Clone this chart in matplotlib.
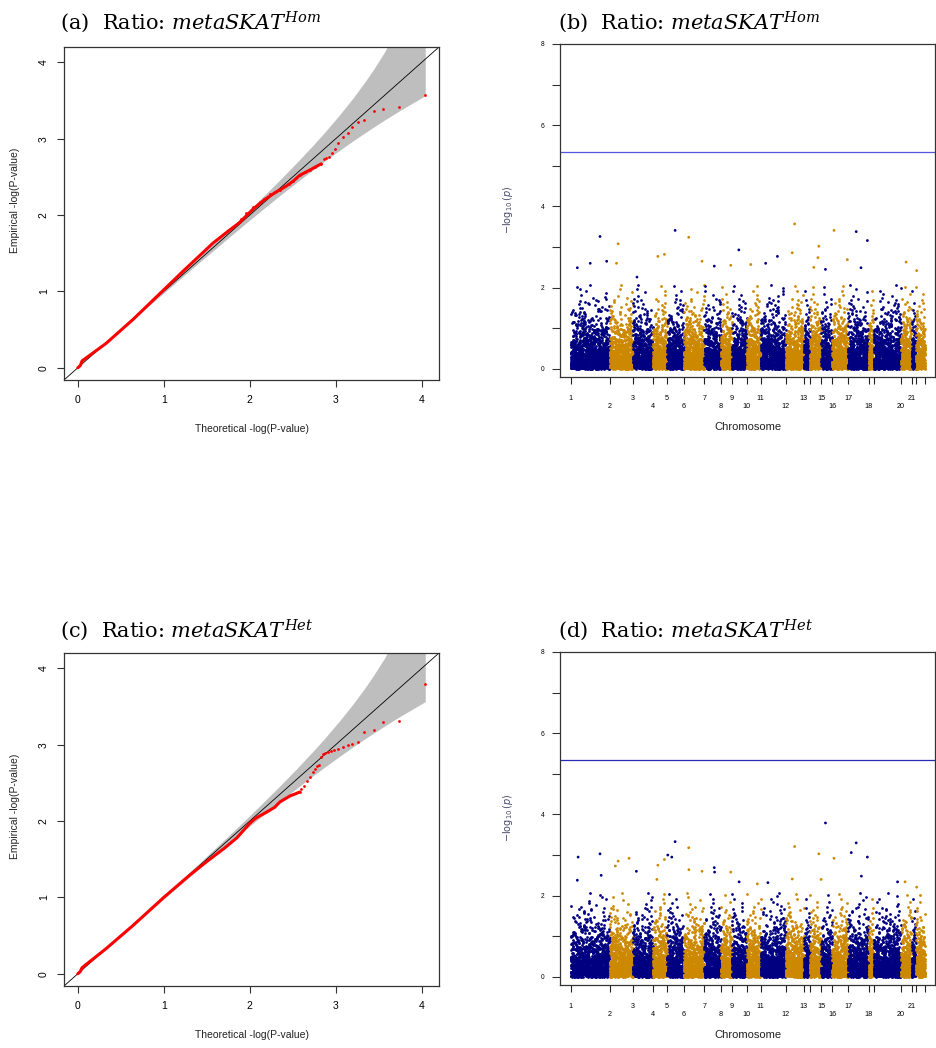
import numpy as np
import matplotlib
matplotlib.use('Agg')
import matplotlib.pyplot as plt

plt.rcParams['font.family'] = ['Liberation Sans', 'DejaVu Sans']
plt.rcParams['mathtext.fontset'] = 'dejavuserif'

# ---- QQ plots ----
# 90% band of the expected order statistics (theoretical vs. empirical -log10 p)
band_x = [4.04, 3.739, 3.563, 3.438, 3.341, 3.195, 3.04, 2.864, 2.739, 2.563, 2.341, 2.04, 1.739, 1.341, 1.04, 0.739, 0.341, 0.0]
band_hi = [5.33, 4.489, 4.127, 3.905, 3.746, 3.524, 3.306, 3.074, 2.918, 2.706, 2.449, 2.114, 1.791, 1.374, 1.063, 0.754, 0.349, 0.0]
band_lo = [3.563, 3.364, 3.241, 3.150, 3.078, 2.967, 2.844, 2.700, 2.595, 2.443, 2.248, 1.972, 1.690, 1.310, 1.018, 0.725, 0.334, 0.0]

# Hom: top genes as single points, the rest as a dense trace
hom_tail_x = [4.04, 3.74, 3.55, 3.44, 3.33, 3.26, 3.19, 3.14, 3.08, 3.03, 2.99, 2.96, 2.92, 2.89, 2.86, 2.83,
              2.76, 2.70, 2.64, 2.58, 2.54, 2.50, 2.46, 2.41, 2.35, 2.29, 2.23, 2.17, 2.12, 2.04, 1.96, 1.90]
hom_tail_y = [3.57, 3.41, 3.39, 3.36, 3.25, 3.22, 3.15, 3.07, 3.02, 2.94, 2.87, 2.81, 2.76, 2.75, 2.73, 2.67,
              2.625, 2.59, 2.56, 2.53, 2.49, 2.44, 2.41, 2.38, 2.33, 2.30, 2.28, 2.21, 2.17, 2.10, 2.02, 1.95]
hom_line_x = [0.0, 0.03, 0.05, 0.33, 0.64, 0.99, 1.22, 1.40, 1.57, 1.75, 1.88, 2.04, 2.17, 2.29, 2.41, 2.50, 2.58, 2.70, 2.83]
hom_line_y = [0.0, 0.03, 0.09, 0.32, 0.63, 1.01, 1.26, 1.45, 1.63, 1.79, 1.90, 2.08, 2.20, 2.29, 2.37, 2.44, 2.52, 2.59, 2.67]

# Het
het_tail_x = [4.04, 3.74, 3.55, 3.44, 3.33, 3.26, 3.19, 3.14, 3.08, 3.03, 2.98, 2.95, 2.91, 2.88, 2.85, 2.83,
              2.81, 2.78, 2.76, 2.73, 2.70, 2.66, 2.63, 2.60, 2.58]
het_tail_y = [3.79, 3.31, 3.30, 3.19, 3.17, 3.03, 3.01, 2.99, 2.97, 2.94, 2.93, 2.92, 2.91, 2.89, 2.88, 2.84,
              2.73, 2.72, 2.68, 2.64, 2.57, 2.53, 2.46, 2.42, 2.38]
het_line_x = [0.0, 0.03, 0.05, 0.33, 0.64, 1.0, 1.3, 1.5, 1.7, 1.85, 2.0, 2.06, 2.12, 2.17, 2.23, 2.29, 2.35, 2.41, 2.47, 2.54, 2.58]
het_line_y = [0.0, 0.03, 0.08, 0.33, 0.63, 1.0, 1.29, 1.47, 1.64, 1.78, 1.97, 2.03, 2.07, 2.10, 2.14, 2.18, 2.25, 2.29, 2.33, 2.36, 2.38]

# ---- Manhattan plots ----
chroms = list(range(1, 23))
chrom_genes = [1220, 725, 620, 445, 520, 640, 520, 340, 465, 435, 780, 570, 185, 355, 340, 495, 645, 155, 860, 330, 135, 280]

# share of genes falling in each -log10(p) band (background cloud)
band_top = [0.25, 0.5, 0.75, 1.0, 1.25, 1.5, 1.75, 2.1]
band_share = [0.445, 0.25, 0.145, 0.08, 0.042, 0.021, 0.011, 0.006]

sig_line = 5.34

# strongest genes: chromosome, relative position inside the chromosome, -log10(p)
hom_hit_chr = [1, 2, 5, 6, 9, 12, 12, 14, 14, 16, 17, 17, 16, 4, 4, 1, 1, 1, 2, 7, 8, 10, 11, 11, 20, 22, 3, 6, 17, 15, 14]
hom_hit_pos = [0.75, 0.36, 0.48, 0.24, 0.47, 0.49, 0.36, 0.79, 0.71, 0.12, 0.40, 0.94, 0.96, 0.81, 0.35, 0.50, 0.92, 0.17,
               0.29, 0.60, 0.90, 0.29, 0.20, 0.67, 0.47, 0.07, 0.20, 0.89, 0.63, 0.39, 0.35]
hom_hit_val = [3.26, 3.08, 3.41, 3.24, 2.93, 3.57, 2.86, 3.02, 2.74, 3.41, 3.38, 3.16, 2.69, 2.82, 2.77, 2.60, 2.65, 2.49,
               2.60, 2.53, 2.55, 2.57, 2.60, 2.77, 2.63, 2.42, 2.26, 2.65, 2.49, 2.45, 2.50]

het_hit_chr = [15, 5, 17, 6, 12, 1, 1, 5, 5, 4, 14, 16, 17, 17, 2, 2, 2, 4, 6, 6, 7, 7, 8, 3, 1, 1, 17, 9, 19, 11, 10, 14, 12, 20, 22, 4]
het_hit_pos = [0.39, 0.48, 0.40, 0.24, 0.49, 0.19, 0.75, 0.04, 0.28, 0.81, 0.79, 0.12, 0.16, 0.94, 0.83, 0.36, 0.24, 0.35,
               0.25, 0.89, 0.60, 0.62, 0.90, 0.17, 0.78, 0.17, 0.65, 0.49, 0.87, 0.29, 0.76, 0.99, 0.36, 0.37, 0.07, 0.28]
het_hit_val = [3.79, 3.33, 3.30, 3.18, 3.21, 2.95, 3.03, 3.00, 2.95, 2.89, 3.03, 2.92, 3.06, 2.95, 2.92, 2.85, 2.73, 2.75,
               2.64, 2.60, 2.69, 2.58, 2.58, 2.60, 2.50, 2.38, 2.48, 2.34, 2.34, 2.32, 2.29, 2.40, 2.41, 2.34, 2.21, 2.40]

navy = '#000080'
gold = '#CC8800'
W, H = 937, 1048

fig = plt.figure(figsize=(W / 100, H / 100), dpi=100)


def box(left, top, right, bottom):
    return [left / W, 1 - bottom / H, (right - left) / W, (bottom - top) / H]


def qq(rect, tail_x, tail_y, line_x, line_y, ylab_y, xlab_y):
    ax = fig.add_axes(box(*rect))
    ax.fill_between(band_x, band_lo, band_hi, color='#BEBEBE', lw=0, zorder=1)
    ax.axline((0, 0), slope=1, color='black', lw=0.6, zorder=2)
    ax.plot(line_x, line_y, color='red', lw=2.2, solid_capstyle='round', solid_joinstyle='round', zorder=3)
    ax.plot(tail_x, tail_y, 'o', color='red', ms=2.0, mew=0, zorder=3)
    ax.set_xlim(-0.16, 4.2)
    ax.set_ylim(-0.16, 4.2)
    ax.set_xticks(range(5))
    ax.set_yticks(range(5))
    ax.tick_params(length=5, width=0.8, labelsize=7.5, color='#333333')
    ax.tick_params(axis='x', pad=6)
    ax.tick_params(axis='y', pad=6, labelrotation=90)
    for lab in ax.get_yticklabels():
        lab.set_va('center')
    for s in ax.spines.values():
        s.set_linewidth(0.9)
        s.set_color('#333333')
    fig.text(15 / W, 1 - ylab_y / H, 'Empirical -log(P-value)', rotation=90, ha='center', va='center', fontsize=7.5, color='#222222')
    fig.text(252 / W, 1 - xlab_y / H, 'Theoretical -log(P-value)', ha='center', va='center', fontsize=7.5, color='#222222')
    return ax


def manhattan(rect, hit_chr, hit_pos, hit_val, phase, line_color, ylab_y, xlab_y):
    ax = fig.add_axes(box(*rect))
    starts = np.concatenate([[0], np.cumsum(chrom_genes)])
    for c, n in enumerate(chrom_genes):
        col = navy if c % 2 == 0 else gold
        # heights spread evenly inside each band, then dealt out along the chromosome
        heights = []
        low = 0.0
        for top, share in zip(band_top, band_share):
            k = int(round(n * share))
            heights.append(low + (np.arange(k) + 0.5) / max(k, 1) * (top - low))
            low = top
        heights = np.concatenate(heights)
        m = len(heights)
        j = np.arange(m)
        key = (np.sqrt(2) * j * j + 0.6180339887 * j + phase + 0.37 * c) % 1.0
        y = np.empty(m)
        y[np.argsort(key)] = heights
        x = starts[c] + (j + 0.5) / m * n
        ax.scatter(x, y, s=4.0, c=col, linewidths=0, zorder=2)
    hx = [starts[c - 1] + p * chrom_genes[c - 1] for c, p in zip(hit_chr, hit_pos)]
    hc = [navy if c % 2 == 1 else gold for c in hit_chr]
    ax.scatter(hx, hit_val, s=4.0, c=hc, linewidths=0, zorder=2)
    ax.axhline(sig_line, color=line_color, lw=0.9, zorder=1)

    ax.set_xlim(-334, 11372)
    ax.set_ylim(-0.2, 8)
    ax.set_yticks(range(9), ['0', '', '2', '', '4', '', '6', '', '8'])
    ax.tick_params(axis='y', length=6, width=0.8, labelsize=4.8, pad=5, color='#333333')

    names = [str(c) for c in chroms] + ['']
    for blank in (14, 19, 22):
        names[blank - 1] = ''
    ax.set_xticks(starts[0::2], names[0::2])
    ax.set_xticks(starts[1::2], names[1::2], minor=True)
    ax.tick_params(axis='x', which='both', length=5, width=0.8, labelsize=5.2, color='#222222')
    ax.tick_params(axis='x', which='major', pad=8)
    ax.tick_params(axis='x', which='minor', pad=14)
    for s in ax.spines.values():
        s.set_linewidth(0.9)
        s.set_color('#333333')
    fig.text(508 / W, 1 - ylab_y / H, r'$-\log_{10}(p)$', rotation=90, ha='center', va='center',
             fontsize=7, color='#4a4a6a', math_fontfamily='dejavusans')
    fig.text(748 / W, 1 - xlab_y / H, 'Chromosome', ha='center', va='center', fontsize=8, color='#222222')
    return ax


qq((64, 47, 439, 380), hom_tail_x, hom_tail_y, hom_line_x, hom_line_y, 200, 429)
qq((64, 653, 439, 986), het_tail_x, het_tail_y, het_line_x, het_line_y, 806, 1035)
manhattan((560, 44, 935, 377), hom_hit_chr, hom_hit_pos, hom_hit_val, 0.13, '#5555dd', 210, 427)
manhattan((560, 652, 935, 985), het_hit_chr, het_hit_pos, het_hit_val, 0.57, '#2a2ab8', 818, 1035)

title_kw = dict(fontsize=15, family='DejaVu Serif', va='baseline', ha='left')
fig.text(60 / W, 1 - 29 / H, r'(a)  Ratio: $metaSKAT^{Hom}$', **title_kw)
fig.text(558 / W, 1 - 29 / H, r'(b)  Ratio: $metaSKAT^{Hom}$', **title_kw)
fig.text(60 / W, 1 - 637 / H, r'(c)  Ratio: $metaSKAT^{Het}$', **title_kw)
fig.text(558 / W, 1 - 637 / H, r'(d)  Ratio: $metaSKAT^{Het}$', **title_kw)

fig.savefig('out.png', dpi=100)
